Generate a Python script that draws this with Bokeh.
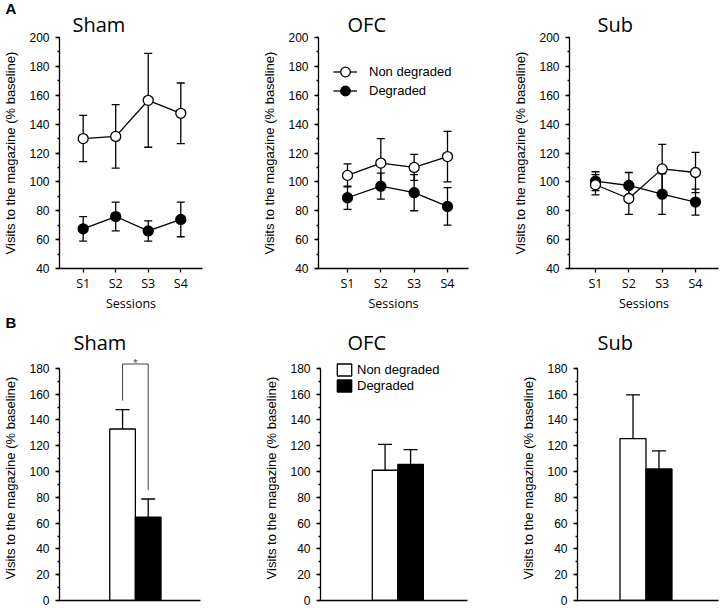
from bokeh.plotting import figure
from bokeh.layouts import column, row
from bokeh.models import (ColumnDataSource, Whisker, TeeHead, Legend, LegendItem, Label, Title,
                          SingleIntervalTicker, FixedTicker, Range1d)
from bokeh.embed import file_html
from bokeh.resources import INLINE

# ---------------- data ----------------
sessions = ["S1", "S2", "S3", "S4"]
conditions = ["Non degraded", "Degraded"]
groups = ["Sham", "OFC", "Sub"]

# Panel A: visits per session (% baseline), mean and SEM
sham_non = [130, 131.5, 156.5, 147.5]
sham_non_err = [16, 22, 32.5, 21]
sham_deg = [67.5, 76, 66, 74]
sham_deg_err = [8.5, 10, 7, 12]

ofc_non = [104.5, 113, 110, 117.5]
ofc_non_err = [8, 17, 9, 17.5]
ofc_deg = [89, 97, 92.5, 83]
ofc_deg_err = [8, 9, 12.5, 13]

sub_non = [98, 88.5, 109, 106.5]
sub_non_err = [7, 11, 17, 14]
sub_deg = [100.5, 97.5, 91.5, 86]
sub_deg_err = [6.5, 9, 14, 9]

# Panel B: averaged over sessions [Non degraded, Degraded]
sham_bar = [133, 64.7]
sham_bar_err = [15, 14]
ofc_bar = [101, 105.5]
ofc_bar_err = [20, 11.5]
sub_bar = [125.5, 102]
sub_bar_err = [34, 14]

YLABEL = "Visits to the magazine (% baseline)"
AX = 1.3


def style_y(p, bounds=None):
    ax = p.yaxis[0]
    ax.ticker = SingleIntervalTicker(interval=20, num_minor_ticks=2)
    ax.axis_label = YLABEL
    ax.axis_label_text_font = "Liberation Sans"
    ax.axis_label_text_font_size = "13px"
    ax.axis_label_text_font_style = "normal"
    ax.axis_label_text_color = "black"
    ax.axis_label_standoff = 8
    ax.major_label_text_font = "Liberation Sans"
    ax.major_label_text_font_size = "12px"
    ax.major_label_text_color = "black"
    ax.major_label_standoff = 6
    ax.major_tick_out = 4
    ax.major_tick_in = 0
    ax.minor_tick_out = 2
    ax.minor_tick_in = 0
    ax.axis_line_width = AX
    ax.major_tick_line_width = AX
    ax.minor_tick_line_width = AX
    ax.axis_line_color = "black"
    ax.major_tick_line_color = "black"
    ax.minor_tick_line_color = "black"
    if bounds is not None:
        ax.bounds = bounds


def style_title(t, font, size, bold, align_offset, standoff):
    t.text_font = font
    t.text_font_size = size
    t.text_font_style = "bold" if bold else "normal"
    t.text_color = "black"
    t.align = "left"
    t.offset = align_offset
    t.standoff = standoff


def base_fig(width, height, xr, yr, left, right, top, bottom, title, toff, letter=None, lstand=0):
    p = figure(width=width, height=height, x_range=Range1d(*xr), y_range=Range1d(*yr),
               output_backend="svg", toolbar_location=None,
               min_border_left=left, min_border_right=right,
               min_border_top=top, min_border_bottom=bottom)
    p.outline_line_color = None
    p.xgrid.visible = False
    p.ygrid.visible = False
    p.background_fill_color = "white"
    if letter is None:
        p.title.text = title
        style_title(p.title, "Open Sans", "20px", False, toff, 0)
    else:
        # panel letter as the outer title, group name as an inner title next to the frame
        p.title.text = letter
        style_title(p.title, "Liberation Sans", "15px", True, -54, lstand)
        t = Title(text=title)
        style_title(t, "Open Sans", "20px", False, toff, 0)
        p.add_layout(t, "above")
    return p


def line_panel(title, non, non_err, deg, deg_err, width, left, right, xr, toff, legend=False, letter=None):
    p = base_fig(width, 314, xr, (40, 200), left, right, 37, 46, title, toff, letter, -16)
    style_y(p)
    xs = list(range(1, len(sessions) + 1))
    ax = p.xaxis[0]
    ax.ticker = FixedTicker(ticks=xs, minor_ticks=[])
    ax.major_label_overrides = {x: s for x, s in zip(xs, sessions)}
    ax.major_label_text_font = "Open Sans"
    ax.major_label_text_font_size = "12.5px"
    ax.major_label_text_color = "black"
    ax.major_label_standoff = 2
    ax.axis_label = "Sessions"
    ax.axis_label_text_font = "Open Sans"
    ax.axis_label_text_font_size = "12.5px"
    ax.axis_label_text_font_style = "normal"
    ax.axis_label_text_color = "black"
    ax.axis_label_standoff = 0
    ax.major_tick_out = 4
    ax.major_tick_in = 0
    ax.axis_line_width = AX
    ax.major_tick_line_width = AX
    ax.axis_line_color = "black"

    rends = {}
    for name, vals, errs, fill in [("Degraded", deg, deg_err, "black"),
                                   ("Non degraded", non, non_err, "white")]:
        src = ColumnDataSource(dict(x=xs, y=vals,
                                    lo=[v - e for v, e in zip(vals, errs)],
                                    hi=[v + e for v, e in zip(vals, errs)]))
        w = Whisker(base="x", lower="lo", upper="hi", source=src, line_color="black",
                    line_width=AX,
                    lower_head=TeeHead(size=8, line_width=AX, line_color="black"),
                    upper_head=TeeHead(size=8, line_width=AX, line_color="black"))
        p.add_layout(w)
        lr = p.line("x", "y", source=src, line_color="black", line_width=AX)
        sr = p.scatter("x", "y", source=src, marker="circle", size=10, fill_color=fill,
                       line_color="black", line_width=AX)
        rends[name] = (lr, sr)

    if legend:
        for c, vy in zip(conditions, [184, 165]):
            leg = Legend(items=[LegendItem(label=c, renderers=list(rends[c]))],
                         location=(15, vy), orientation="vertical", padding=0, margin=0,
                         border_line_color=None, background_fill_alpha=0,
                         glyph_width=24, glyph_height=25, label_height=16, spacing=0,
                         label_standoff=12, label_text_font="Liberation Sans",
                         label_text_font_size="13px", label_text_color="black")
            p.add_layout(leg)
    return p


def bar_panel(title, vals, errs, width, left, right, xr, toff, legend=False, sig=False, letter=None):
    p = base_fig(width, 294, xr, (0, 190), left, right, 41, 8, title, toff, letter, -8)
    style_y(p, bounds=(0, 180))
    ax = p.xaxis[0]
    ax.ticker = FixedTicker(ticks=[], minor_ticks=[])
    ax.major_tick_out = 0
    ax.major_tick_in = 0
    ax.major_label_standoff = 0
    ax.axis_line_width = AX
    ax.axis_line_color = "black"

    xs = list(range(1, len(conditions) + 1))
    src = ColumnDataSource(dict(x=xs, top=vals, fill=["white", "black"],
                                hi=[v + e for v, e in zip(vals, errs)]))
    w = Whisker(base="x", lower="top", upper="hi", source=src, line_color="black",
                line_width=AX, lower_head=None,
                upper_head=TeeHead(size=14, line_width=AX, line_color="black"))
    p.add_layout(w)
    r = p.vbar(x="x", top="top", width=1.0, bottom=0, source=src, fill_color="fill",
               line_color="black", line_width=AX)

    if legend:
        leg = Legend(items=[LegendItem(label=c, renderers=[r], index=i) for i, c in enumerate(conditions)],
                     location=(15, 207), orientation="vertical", padding=0, margin=0,
                     border_line_color=None, background_fill_alpha=0,
                     glyph_width=18, glyph_height=15, label_height=14, spacing=1,
                     label_standoff=4, label_text_font="Liberation Sans",
                     label_text_font_size="13px", label_text_color="black")
        p.add_layout(leg)
    if sig:
        tops = [v + e for v, e in zip(vals, errs)]
        ytop = 183.4
        p.multi_line(xs=[[xs[0], xs[0], xs[1], xs[1]]],
                     ys=[[tops[0] + 7, ytop, ytop, tops[1] + 7]],
                     line_color="#444444", line_width=1)
        p.add_layout(Label(x=(xs[0] + xs[1]) / 2, y=184.5, text="*", text_align="center",
                           text_baseline="alphabetic", text_font="Liberation Sans",
                           text_font_size="11px", text_color="#444444"))
    return p


p1 = line_panel(groups[0], sham_non, sham_non_err, sham_deg, sham_deg_err,
                240, 57, 38, (0.273, 4.667), 13, letter="A")
p2 = line_panel(groups[1], ofc_non, ofc_non_err, ofc_deg, ofc_deg_err,
                240, 78, 12, (0.13, 4.63), 29, legend=True)
p3 = line_panel(groups[2], sub_non, sub_non_err, sub_deg, sub_deg_err,
                240, 89, 2, (0.22, 4.69), 28)

p4 = bar_panel(groups[0], sham_bar, sham_bar_err, 240, 57, 40, (-1.46, 4.04), 14,
               sig=True, letter="B")
p5 = bar_panel(groups[1], ofc_bar, ofc_bar_err, 240, 80, 13, (-1.53, 4.23), 27, legend=True)
p6 = bar_panel(groups[2], sub_bar, sub_bar_err, 240, 97, 2, (-1.135, 4.29), 20)

layout = column(row(p1, p2, p3), row(p4, p5, p6))
open("out.html", "w").write(file_html(layout, INLINE))
